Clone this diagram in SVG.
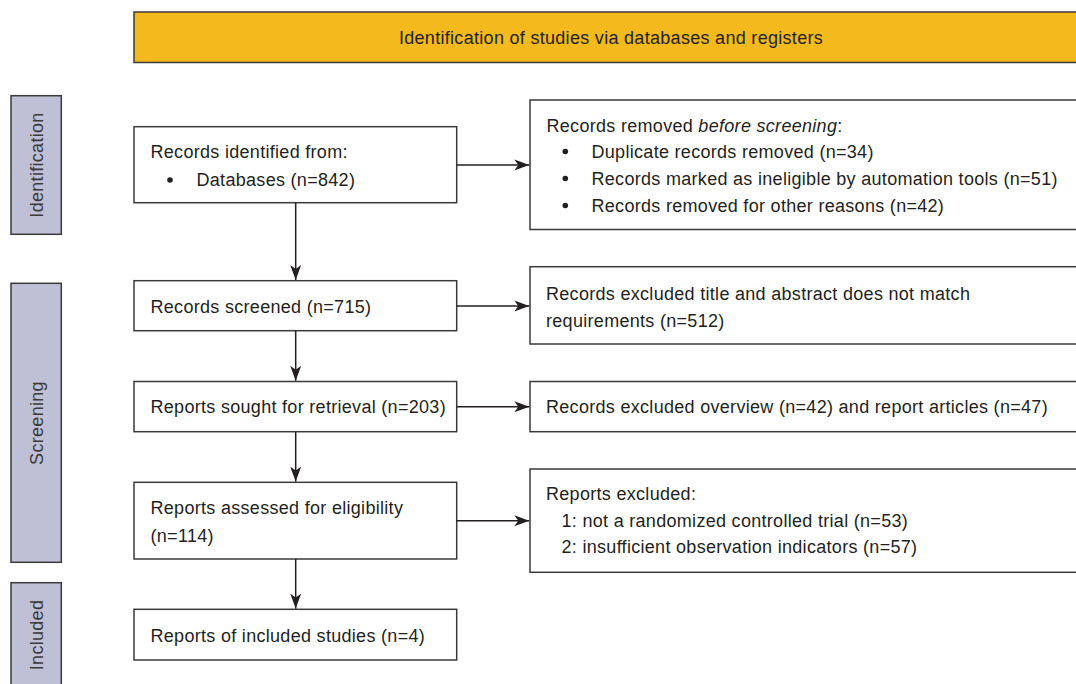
<svg xmlns="http://www.w3.org/2000/svg" width="1076" height="684" viewBox="0 0 1076 684">
<style>
  text { font-family: "Liberation Sans", Arial, sans-serif; font-size: 18px; fill: #231f20; letter-spacing: 0.3px; }
  .box { fill: #ffffff; stroke: #3a3a3a; stroke-width: 1.5; }
  .side { fill: #bfbfd6; stroke: #3a3a3a; stroke-width: 1.5; }
  .head { fill: #f4b91c; stroke: #3a3a3a; stroke-width: 1.5; }
  .side-text { font-size: 18px; fill: #3a3a3a; text-anchor: middle; }
  .conn { fill: none; stroke: #231f20; stroke-width: 1.5; }
</style>
<defs>
  <marker id="arr" viewBox="0 0 16 12" refX="15" refY="6" markerWidth="16" markerHeight="12" markerUnits="userSpaceOnUse" orient="auto">
    <path d="M15,6 L0,0.5 L4,6 L0,11.5 Z" fill="#231f20"/>
  </marker>
</defs>
<rect width="1076" height="684" fill="#ffffff"/>

<g id="header">
  <rect class="head" x="134" y="12" width="960" height="50.5"/>
  <text x="611" y="44" text-anchor="middle">Identification of studies via databases and registers</text>
</g>

<g id="label-identification">
  <rect class="side" x="11" y="95.7" width="50.3" height="138.6"/>
  <text class="side-text" transform="translate(43,165) rotate(-90)">Identification</text>
</g>
<g id="label-screening">
  <rect class="side" x="11" y="283.3" width="50.3" height="279"/>
  <text class="side-text" transform="translate(43,423) rotate(-90)">Screening</text>
</g>
<g id="label-included">
  <rect class="side" x="11" y="582.7" width="50.3" height="120"/>
  <text class="side-text" transform="translate(43,635) rotate(-90)">Included</text>
</g>

<g id="records-identified">
  <rect class="box" x="134" y="126.7" width="322.7" height="76"/>
  <text x="150.5" y="158.3">Records identified from:</text>
  <circle cx="170" cy="180" r="2.8" fill="#231f20"/>
  <text x="196.5" y="185.7">Databases (n=842)</text>
</g>

<g id="records-removed">
  <rect class="box" x="530" y="100" width="560" height="129.5"/>
  <text x="546.5" y="131.5">Records removed <tspan font-style="italic">before screening</tspan>:</text>
  <circle cx="565.3" cy="151.5" r="2.8" fill="#231f20"/>
  <text x="591.5" y="157.5">Duplicate records removed (n=34)</text>
  <circle cx="565.3" cy="178.5" r="2.8" fill="#231f20"/>
  <text x="591.5" y="184.5">Records marked as ineligible by automation tools (n=51)</text>
  <circle cx="565.3" cy="205.5" r="2.8" fill="#231f20"/>
  <text x="591.5" y="211.5">Records removed for other reasons (n=42)</text>
</g>

<g id="records-screened">
  <rect class="box" x="134" y="280.7" width="322.7" height="50"/>
  <text x="150.5" y="312.5">Records screened (n=715)</text>
</g>

<g id="records-excluded">
  <rect class="box" x="530" y="266.7" width="560" height="77.3"/>
  <text x="546" y="299.5">Records excluded title and abstract does not match</text>
  <text x="546" y="326.5">requirements (n=512)</text>
</g>

<g id="reports-sought">
  <rect class="box" x="134" y="381.5" width="322.7" height="50.2"/>
  <text x="150.5" y="413">Reports sought for retrieval (n=203)</text>
</g>

<g id="reports-not-retrieved">
  <rect class="box" x="530" y="381.5" width="560" height="50.2"/>
  <text x="546" y="413">Records excluded overview (n=42) and report articles (n=47)</text>
</g>

<g id="reports-assessed">
  <rect class="box" x="134" y="482.3" width="322.7" height="76.7"/>
  <text x="150.5" y="514">Reports assessed for eligibility</text>
  <text x="150.5" y="541.7">(n=114)</text>
</g>

<g id="reports-excluded">
  <rect class="box" x="530" y="469" width="560" height="103.3"/>
  <text x="546" y="500">Reports excluded:</text>
  <text x="561.5" y="526.7">1: not a randomized controlled trial (n=53)</text>
  <text x="561.5" y="553.3">2: insufficient observation indicators (n=57)</text>
</g>

<g id="included-studies">
  <rect class="box" x="134" y="609.3" width="322.7" height="50.7"/>
  <text x="150.5" y="641.5">Reports of included studies (n=4)</text>
</g>

<g id="connectors">
  <line class="conn" x1="295.7" y1="202.7" x2="295.7" y2="280" marker-end="url(#arr)"/>
  <line class="conn" x1="295.7" y1="330.7" x2="295.7" y2="380.8" marker-end="url(#arr)"/>
  <line class="conn" x1="295.7" y1="431.7" x2="295.7" y2="481.6" marker-end="url(#arr)"/>
  <line class="conn" x1="295.7" y1="559" x2="295.7" y2="608.6" marker-end="url(#arr)"/>
  <line class="conn" x1="456.7" y1="165" x2="529.3" y2="165" marker-end="url(#arr)"/>
  <line class="conn" x1="456.7" y1="306" x2="529.3" y2="306" marker-end="url(#arr)"/>
  <line class="conn" x1="456.7" y1="406.7" x2="529.3" y2="406.7" marker-end="url(#arr)"/>
  <line class="conn" x1="456.7" y1="520.7" x2="529.3" y2="520.7" marker-end="url(#arr)"/>
</g>
</svg>
